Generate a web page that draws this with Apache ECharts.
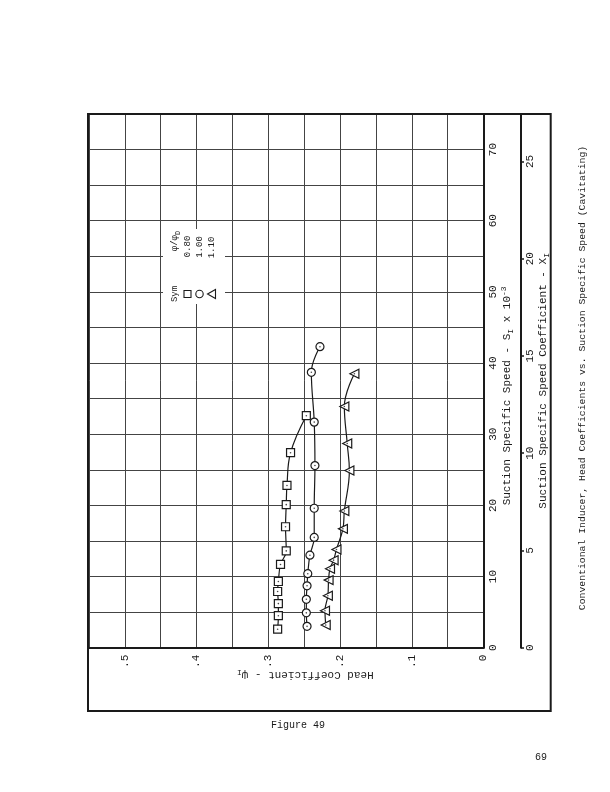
<!DOCTYPE html>
<html><head><meta charset="utf-8">
<script src="https://cdn.jsdelivr.net/npm/echarts@6/dist/echarts.min.js"></script>
<style>html,body{margin:0;padding:0;background:#fff}#c{width:610px;height:792px}</style>
</head><body><div id="c"></div>
<script>
// ---- data ----
const headTicks = [0, 0.1, 0.2, 0.3, 0.4, 0.5];
const headTickLabels = ['0', '.1', '.2', '.3', '.4', '.5'];
const speedTicks = [0, 10, 20, 30, 40, 50, 60, 70];
const speedTickLabels = ['0', '10', '20', '30', '40', '50', '60', '70'];
const coefTicks = [0, 5, 10, 15, 20, 25];
const coefTickLabels = ['0', '5', '10', '15', '20', '25'];

const legendRatios = ['0.80', '1.00', '1.10'];

// phi/phiD = 0.80 (squares)
const sqSpeed = [2.6, 4.5, 6.2, 7.9, 9.3, 11.7, 13.6, 17.0, 20.1, 22.8, 27.4, 32.6];
const sqHead  = [0.287, 0.286, 0.286, 0.287, 0.286, 0.283, 0.275, 0.276, 0.275, 0.274, 0.269, 0.247];
// phi/phiD = 1.00 (circles)
const ciSpeed = [3.0, 4.9, 6.8, 8.7, 10.4, 13.0, 15.5, 19.6, 25.6, 31.7, 38.7, 42.3];
const ciHead  = [0.246, 0.247, 0.247, 0.246, 0.245, 0.242, 0.236, 0.236, 0.235, 0.236, 0.240, 0.228];
// phi/phiD = 1.10 (triangles)
const trSpeed = [3.2, 5.2, 7.3, 9.5, 11.1, 12.3, 13.8, 16.7, 19.2, 24.9, 28.7, 33.9, 38.5];
const trHead  = [0.220, 0.221, 0.217, 0.216, 0.214, 0.209, 0.205, 0.196, 0.194, 0.187, 0.190, 0.194, 0.180];

const SPEED_MAX = 75;
const COEF_FACTOR = 2.733; // S (x10^-3) per unit of X

// ---- chart ----
const FONT = "'Liberation Mono', 'DejaVu Sans Mono', monospace";
const INK = '#1a1a1a';
const pairs = (h, s) => h.map((v, i) => [v, s[i]]);
const lookup = (ticks, labels) => v => {
  for (let i = 0; i < ticks.length; i++) if (Math.abs(ticks[i] - v) < 1e-6) return labels[i];
  return '';
};

const chart = echarts.init(document.getElementById('c'), null, {renderer: 'canvas'});

const markerStyle = {color: '#fff', borderColor: INK, borderWidth: 1.2};
const lineStyle = {color: INK, width: 1.2};
function curve(name, h, s, symbol, size, rotate) {
  return {
    name, type: 'line', data: pairs(h, s), smooth: 0.4,
    symbol, symbolSize: size, symbolRotate: rotate || 0, showAllSymbol: true,
    itemStyle: markerStyle, lineStyle, z: 3
  };
}
function dots(h, s) {
  return {type: 'scatter', data: pairs(h, s), symbol: 'circle', symbolSize: 1.6,
    itemStyle: {color: INK}, z: 5, silent: true};
}

const nameRich = {
  m: {fontFamily: FONT, fontSize: 11, color: INK, lineHeight: 15, verticalAlign: 'middle'},
  sub: {fontFamily: FONT, fontSize: 8, color: INK, lineHeight: 15, verticalAlign: 'bottom'},
  sup: {fontFamily: FONT, fontSize: 8, color: INK, lineHeight: 15, verticalAlign: 'top'}
};
const TXT = (text, x, y, size, rot, extra) => ({
  type: 'text', z: 101, x, y, rotation: rot ? Math.PI / 2 : 0,
  style: Object.assign({text, font: size + 'px ' + FONT, fill: INK, align: 'center', verticalAlign: 'middle',
    textAlign: 'center', textVerticalAlign: 'middle'}, extra || {})
});

const option = {
  backgroundColor: '#fff',
  animation: false,
  grid: {left: 89, right: 126.5, top: 114, bottom: 144.3, show: false},
  xAxis: {
    type: 'value', inverse: true, min: 0, max: 0.55, interval: 0.05, position: 'bottom',
    axisLine: {show: true, onZero: false, lineStyle: {color: INK, width: 2}},
    axisTick: {show: false},
    axisLabel: {rotate: 90, margin: 7, fontFamily: FONT, fontSize: 11, color: INK,
      formatter: lookup(headTicks, headTickLabels)},
    splitLine: {show: true, lineStyle: {color: '#444', width: 1}},
    name: '{m|Head Coefficient - ψ}{sub|I}', nameLocation: 'middle', nameRotate: 180, nameGap: 20,
    nameMoveOverlap: false,
    nameTextStyle: {rich: nameRich, padding: [0, 38, 0, 0]}
  },
  yAxis: [{
    type: 'value', min: 0, max: SPEED_MAX, interval: 5, position: 'right',
    axisLine: {show: true, onZero: false, lineStyle: {color: INK, width: 2}},
    axisTick: {show: false},
    axisLabel: {rotate: 90, margin: 4, fontFamily: FONT, fontSize: 11, color: INK,
      formatter: lookup(speedTicks, speedTickLabels)},
    splitLine: {show: true, lineStyle: {color: '#444', width: 1}},
    name: '{m|Suction Specific Speed - S}{sub|I}{m| x 10}{sup|-3}', nameLocation: 'middle', nameRotate: 90, nameGap: 16,
    nameMoveOverlap: false,
    nameTextStyle: {rich: nameRich, padding: [0, 30, 0, 0]}
  }, {
    type: 'value', min: 0, max: SPEED_MAX / COEF_FACTOR, interval: 5, position: 'right', offset: 37.5,
    axisLine: {show: true, onZero: false, lineStyle: {color: INK, width: 2}},
    axisTick: {show: true, length: 3, lineStyle: {color: INK, width: 1.5}},
    axisLabel: {rotate: 90, margin: 4, fontFamily: FONT, fontSize: 11, color: INK,
      formatter: lookup(coefTicks, coefTickLabels)},
    splitLine: {show: false},
    name: '{m|Suction Specific Speed Coefficient - X}{sub|I}', nameLocation: 'middle', nameRotate: 90, nameGap: 14.5,
    nameMoveOverlap: false,
    nameTextStyle: {rich: nameRich}
  }],
  series: [
    curve('0.80', sqHead, sqSpeed, 'rect', 8),
    curve('1.00', ciHead, ciSpeed, 'circle', 8),
    curve('1.10', trHead, trSpeed, 'triangle', 9, 90),
    dots(sqHead, sqSpeed), dots(ciHead, ciSpeed), dots(trHead, trSpeed)
  ],
  graphic: [
    // outer frame
    {type: 'rect', z: 100, shape: {x: 88, y: 114, width: 462.7, height: 597}, style: {fill: 'none', stroke: INK, lineWidth: 2}},
    // legend block
    {type: 'rect', z: 100, shape: {x: 163, y: 229, width: 62, height: 75}, style: {fill: '#fff'}},
    TXT('Sym', 175, 294, 9, true),
    TXT('φ/φ{d|D}', 175, 241, 9, true, {rich: {d: {fontSize: 7, fontFamily: FONT, fill: INK, verticalAlign: 'bottom', lineHeight: 13}}}),
    TXT(legendRatios[0], 187.5, 246.5, 9, true),
    TXT(legendRatios[1], 199.5, 247, 9, true),
    TXT(legendRatios[2], 211.5, 247.5, 9, true),
    {type: 'rect', z: 101, shape: {x: 184, y: 290.5, width: 7, height: 7}, style: {fill: '#fff', stroke: INK, lineWidth: 1.1}},
    {type: 'circle', z: 101, shape: {cx: 199.5, cy: 294, r: 3.7}, style: {fill: '#fff', stroke: INK, lineWidth: 1.1}},
    {type: 'polygon', z: 101, shape: {points: [[207.5, 294], [215.5, 289.5], [215.5, 298.5]]}, style: {fill: '#fff', stroke: INK, lineWidth: 1.1}},
    // caption & page texts
    TXT('Conventional Inducer, Head Coefficients vs. Suction Specific Speed (Cavitating)', 582, 378, 9.8, true),
    TXT('Figure 49', 298, 725, 10, false),
    TXT('69', 541, 757, 10, false)
  ]
};
chart.setOption(option);
</script></body></html>
